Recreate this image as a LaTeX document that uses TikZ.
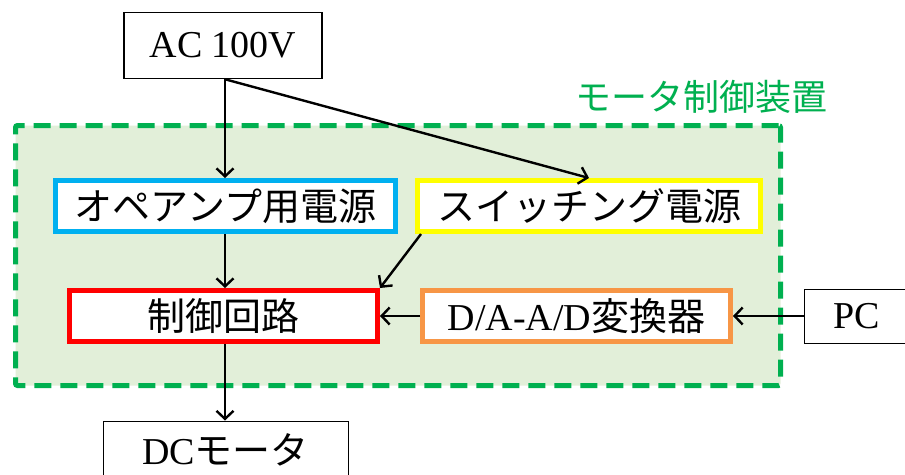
\documentclass[tikz,border=0pt]{standalone}
\usepackage{fontspec}
\setmainfont{Liberation Serif}
\newfontfamily\jp{Noto Sans CJK JP}
\usetikzlibrary{arrows.meta,calc}
\definecolor{cblue}{HTML}{00B0F0}
\definecolor{cyel}{HTML}{FFFF00}
\definecolor{cred}{HTML}{FF0000}
\definecolor{corg}{HTML}{F79646}
\definecolor{cgreen}{HTML}{00B050}
\definecolor{cfill}{HTML}{E2EFD9}
\tikzset{
  box/.style={draw=black, fill=white, line width=1.5pt, inner sep=0pt,
    font=\fontsize{38}{40}\selectfont},
  cbox/.style={box, line width=5pt, minimum height=51pt, draw=#1},
  frame/.style={draw=cgreen, fill=cfill, line width=5pt, dash pattern=on 17pt off 9pt,
    rounded corners=2pt, inner sep=0pt},
  conn/.style={line width=2.4pt, -{Straight Barb[length=8pt,width=17pt,line width=2.4pt]}}
}
\begin{document}
\begin{tikzpicture}[x=1pt,y=-1pt]
\clip (0,0) rectangle (905,474);
\fill[white] (0,0) rectangle (905,474);
\node[frame, minimum width=765pt, minimum height=260pt] (frame) at (398,255.5) {};
\node[text=cgreen, font=\jp\fontsize{36}{38}\selectfont, inner sep=0pt] (title) at (701,97) {モータ制御装置};
\node[box, minimum width=198pt, minimum height=66pt] (ac) at (223,45.5) {AC 100V};
\node[cbox=cblue, minimum width=340pt] (opamp) at (225.5,206) {\jp オペアンプ用電源};
\node[cbox=cyel, minimum width=343pt] (sw) at (589,206) {\jp スイッチング電源};
\node[cbox=cred, minimum width=308pt] (ctrl) at (223.5,316) {\jp 制御回路};
\node[cbox=corg, minimum width=308pt] (dac) at (576.5,316) {D/A-A/D{\jp 変換器}};
\node[box, line width=1pt, minimum width=106pt, minimum height=54pt] (pc) at (857,316) {PC};
\node[box, line width=1pt, minimum width=245pt, minimum height=58pt] (dc) at (225.5,450) {DC{\jp モータ}};
\draw[conn] (ac.south -| 225,0) -- (opamp.north -| 225,0);
\draw[conn] (ac.south -| 225,0) -- (sw.north);
\draw[conn] (opamp.south -| 225,0) -- (ctrl.north -| 225,0);
\draw[conn] ($(sw.south west)+(6,0)$) -- (ctrl.north east);
\draw[conn] (dac.west) -- (ctrl.east);
\draw[conn] (pc.west) -- (dac.east);
\draw[conn] (ctrl.south -| 225,0) -- (dc.north -| 225,0);
\end{tikzpicture}
\end{document}
